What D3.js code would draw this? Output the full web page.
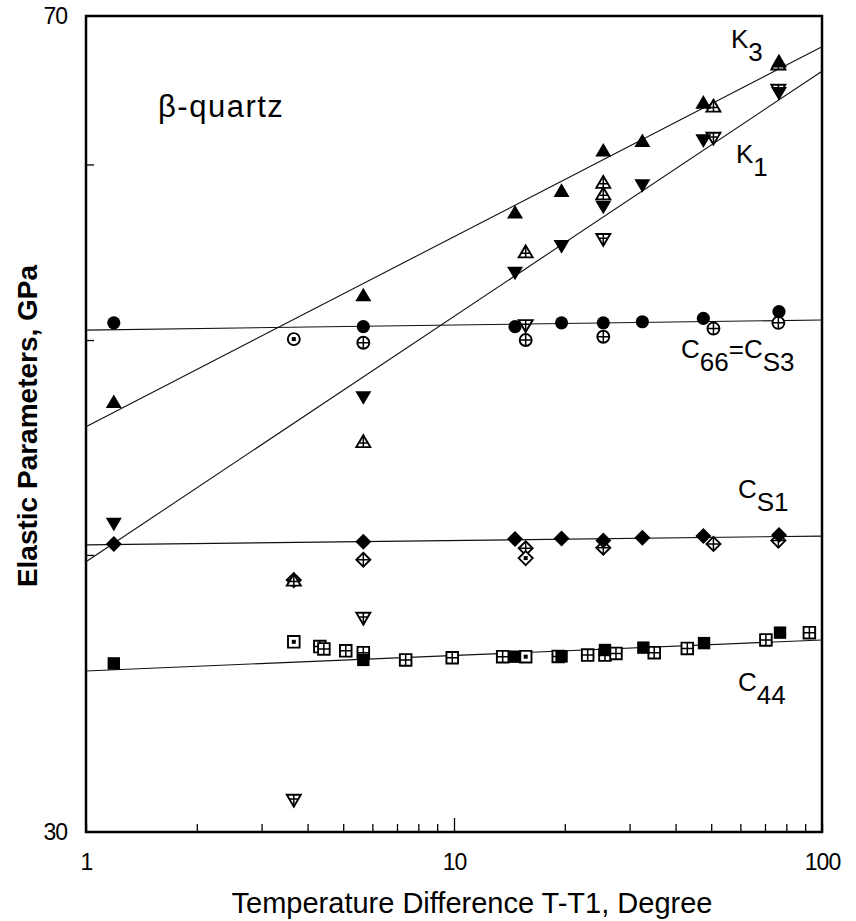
<!DOCTYPE html>
<html>
<head>
<meta charset="utf-8">
<script src="https://cdn.jsdelivr.net/npm/d3@7"></script>
<style>
  body { margin: 0; background: #fff; }
  svg { display: block; font-family: "Liberation Sans", Arial, sans-serif; }
</style>
</head>
<body>
<div id="chart"></div>
<script>
// temperature difference (deg) vs elastic parameter (GPa)
var k3Filled = [[1.19, 46.9], [5.67, 52.4], [14.65, 57.1], [19.6, 58.4], [25.45, 60.9], [32.5, 61.5], [47.6, 64.0], [76.4, 66.8]];
var k3Open = [[3.67, 38.97], [5.67, 45.0], [15.66, 54.8], [25.45, 58.9], [25.45, 58.2], [50.7, 63.75], [76.1, 66.6]];
var k1Filled = [[1.19, 41.3], [5.67, 47.1], [14.65, 53.6], [19.6, 55.1], [25.45, 57.4], [32.5, 58.7], [47.6, 61.5], [76.4, 64.6]];
var k1Open = [[3.67, 31.0], [5.67, 37.45], [15.66, 50.75], [25.45, 55.5], [50.7, 61.65], [76.1, 64.8]];

var c66Filled = [[1.19, 50.9], [5.67, 50.7], [14.65, 50.7], [19.6, 50.9], [25.45, 50.9], [32.5, 50.96], [47.6, 51.14], [76.4, 51.5]];
var c66OpenCross = [[5.67, 49.86], [15.66, 50.0], [25.45, 50.17], [50.7, 50.6], [76.1, 50.9]];
var c66OpenDot = [[3.67, 50.05]];

var cs1Filled = [[1.19, 40.46], [5.67, 40.55], [14.65, 40.67], [19.6, 40.69], [25.45, 40.6], [32.5, 40.72], [47.6, 40.79], [76.4, 40.84]];
var cs1OpenCross = [[3.67, 38.97], [5.67, 39.8], [15.66, 40.28], [25.45, 40.3], [50.7, 40.46], [76.1, 40.6]];
var cs1OpenDot = [[15.66, 39.87]];

var c44Filled = [[1.19, 35.74], [5.67, 35.87], [14.65, 35.99], [19.6, 36.0], [25.72, 36.24], [32.7, 36.33], [47.8, 36.5], [76.9, 36.9]];
var c44OpenCross = [[4.32, 36.37], [4.43, 36.28], [5.08, 36.21], [5.67, 36.14], [7.39, 35.87], [9.89, 35.95], [13.56, 35.99], [19.2, 36.0], [23.08, 36.05], [25.72, 36.05], [27.55, 36.11], [35.0, 36.14], [43.05, 36.3], [70.4, 36.62], [92.4, 36.9]];
var c44OpenDot = [[3.67, 36.55], [15.66, 35.99]];

// power-law fits, value at T-T1 = 1 and 100
var k3Fit = [[1, 45.7], [100, 67.8]];
var k1Fit = [[1, 39.72], [100, 66.1]];
var c66Fit = [[1, 50.52], [100, 51.05]];
var cs1Fit = [[1, 40.42], [100, 40.79]];
var c44Fit = [[1, 35.46], [100, 36.62]];

var xTicks = [1, 2, 3, 4, 5, 6, 7, 8, 9, 10, 20, 30, 40, 50, 60, 70, 80, 90, 100];
var xLabels = [1, 10, 100];
var yTicks = [30, 40, 50, 60, 70];
var yLabels = [30, 70];

var width = 856, height = 921;
var plotLeft = 86, plotRight = 822, plotTop = 16, plotBottom = 832;

var svg = d3.select("#chart").append("svg")
    .attr("width", width)
    .attr("height", height);

var x = d3.scaleLog().domain([1, 100]).range([plotLeft, plotRight]);
var y = d3.scaleLog().domain([30, 70]).range([plotBottom, plotTop]);

// axes
var xAxis = svg.append("g")
    .attr("transform", "translate(0," + plotBottom + ")")
    .call(d3.axisBottom(x)
        .tickValues(xTicks)
        .tickSizeInner(-8)
        .tickSizeOuter(0)
        .tickPadding(22)
        .tickFormat(function(d) { return xLabels.indexOf(d) >= 0 ? d : ""; }));
xAxis.select(".domain").remove();
xAxis.selectAll(".tick line")
    .attr("stroke", "#000")
    .attr("stroke-width", 1.3)
    .attr("y2", function(d) { return d == 10 ? -14 : -8; });
xAxis.selectAll(".tick text")
    .attr("font-size", 23)
    .attr("letter-spacing", -1)
    .attr("fill", "#000")
    .attr("font-family", "'Liberation Sans', Arial, sans-serif");

var yAxis = svg.append("g")
    .attr("transform", "translate(" + plotLeft + ",0)")
    .call(d3.axisLeft(y)
        .tickValues(yTicks)
        .tickSizeInner(-8)
        .tickSizeOuter(0)
        .tickPadding(19)
        .tickFormat(function(d) { return yLabels.indexOf(d) >= 0 ? d : ""; }));
yAxis.select(".domain").remove();
yAxis.selectAll(".tick line")
    .attr("stroke", "#000")
    .attr("stroke-width", 1.3)
    .attr("x2", function(d) { return yLabels.indexOf(d) >= 0 ? 0 : 8; });
yAxis.selectAll(".tick text")
    .attr("font-size", 23)
    .attr("letter-spacing", -1)
    .attr("fill", "#000")
    .attr("font-family", "'Liberation Sans', Arial, sans-serif");

// frame
svg.append("rect")
    .attr("x", plotLeft)
    .attr("y", plotTop)
    .attr("width", plotRight - plotLeft)
    .attr("height", plotBottom - plotTop)
    .attr("fill", "none")
    .attr("stroke", "#000")
    .attr("stroke-width", 2.5);

// fit lines
var line = d3.line()
    .x(function(d) { return x(d[0]); })
    .y(function(d) { return y(d[1]); });

[k3Fit, k1Fit, c66Fit, cs1Fit, c44Fit].forEach(function(f) {
    svg.append("path")
        .attr("d", line(f))
        .attr("fill", "none")
        .attr("stroke", "#111")
        .attr("stroke-width", 1.1);
});

// marker outlines
function shape(type, s) {
    if (type == "up") return "M0," + (-0.9 * s) + "L" + s + "," + (0.8 * s) + "L" + (-s) + "," + (0.8 * s) + "Z";
    if (type == "down") return "M0," + (0.9 * s) + "L" + s + "," + (-0.8 * s) + "L" + (-s) + "," + (-0.8 * s) + "Z";
    if (type == "diamond") return "M0," + (-s) + "L" + s + ",0L0," + s + "L" + (-s) + ",0Z";
    if (type == "square") return "M" + (-s) + "," + (-s) + "H" + s + "V" + s + "H" + (-s) + "Z";
    // circle
    return "M" + (-s) + ",0A" + s + "," + s + " 0 1,0 " + s + ",0A" + s + "," + s + " 0 1,0 " + (-s) + ",0Z";
}

function crossPath(type, s) {
    if (type == "up") return "M0," + (-0.9 * s) + "V" + (0.8 * s) + "M" + (-0.55 * s) + "," + (0.2 * s) + "H" + (0.55 * s);
    if (type == "down") return "M0," + (0.9 * s) + "V" + (-0.8 * s) + "M" + (-0.55 * s) + "," + (-0.2 * s) + "H" + (0.55 * s);
    return "M0," + (-s) + "V" + s + "M" + (-s) + ",0H" + s;
}

var sizes = { up: 8, down: 8, diamond: 8, square: 6.2, circle: 6.6 };
var openSizes = { up: 7, down: 7, diamond: 7, square: 5.8, circle: 6 };

function drawFilled(data, type) {
    svg.append("g").selectAll("path")
        .data(data)
        .enter()
        .append("path")
        .attr("transform", function(d) { return "translate(" + x(d[0]) + "," + y(d[1]) + ")"; })
        .attr("d", shape(type, sizes[type]))
        .attr("fill", "#000");
}

function drawOpen(data, type, inner) {
    var s = openSizes[type];
    var g = svg.append("g").selectAll("g")
        .data(data)
        .enter()
        .append("g")
        .attr("transform", function(d) { return "translate(" + x(d[0]) + "," + y(d[1]) + ")"; });
    g.append("path")
        .attr("d", shape(type, s))
        .attr("fill", "#fff")
        .attr("stroke", "#000")
        .attr("stroke-width", 1.9);
    if (inner == "cross") {
        g.append("path")
            .attr("d", crossPath(type, s))
            .attr("fill", "none")
            .attr("stroke", "#000")
            .attr("stroke-width", 1.5);
    } else {
        g.append("rect")
            .attr("x", -2).attr("y", -2)
            .attr("width", 4).attr("height", 4)
            .attr("fill", "#000");
    }
}

drawOpen(c44OpenCross, "square", "cross");
drawOpen(c44OpenDot, "square", "dot");
drawOpen(cs1OpenCross, "diamond", "cross");
drawOpen(cs1OpenDot, "diamond", "dot");
drawOpen(c66OpenCross, "circle", "cross");
drawOpen(c66OpenDot, "circle", "dot");
drawOpen(k1Open, "down", "cross");
drawOpen(k3Open, "up", "cross");

drawFilled(c44Filled, "square");
drawFilled(cs1Filled, "diamond");
drawFilled(c66Filled, "circle");
drawFilled(k1Filled, "down");
drawFilled(k3Filled, "up");

// curve labels with subscripts
function subLabel(px, py, main, sub, rest, sub2) {
    var t = svg.append("text")
        .attr("x", px)
        .attr("y", py)
        .attr("font-size", 26)
        .attr("fill", "#000");
    t.append("tspan").text(main);
    t.append("tspan").attr("dy", 13).text(sub);
    if (rest) {
        t.append("tspan").attr("dy", -13).text(rest);
        t.append("tspan").attr("dy", 13).text(sub2);
    }
}

subLabel(731, 48, "K", "3");
subLabel(736, 163, "K", "1");
subLabel(681, 358, "C", "66", "=C", "S3");
subLabel(738, 498, "C", "S1");
subLabel(738, 691, "C", "44");

svg.append("text")
    .attr("x", 158)
    .attr("y", 117)
    .attr("font-size", 31)
    .attr("letter-spacing", 1.5)
    .attr("fill", "#000")
    .text("β-quartz");

// axis titles
svg.append("text")
    .attr("x", 472)
    .attr("y", 913)
    .attr("text-anchor", "middle")
    .attr("font-size", 29)
    .attr("fill", "#000")
    .text("Temperature Difference T-T1, Degree");

svg.append("text")
    .attr("transform", "translate(37,426) rotate(-90)")
    .attr("text-anchor", "middle")
    .attr("font-size", 28)
    .attr("font-weight", "bold")
    .attr("fill", "#000")
    .text("Elastic Parameters, GPa");
</script>
</body>
</html>
